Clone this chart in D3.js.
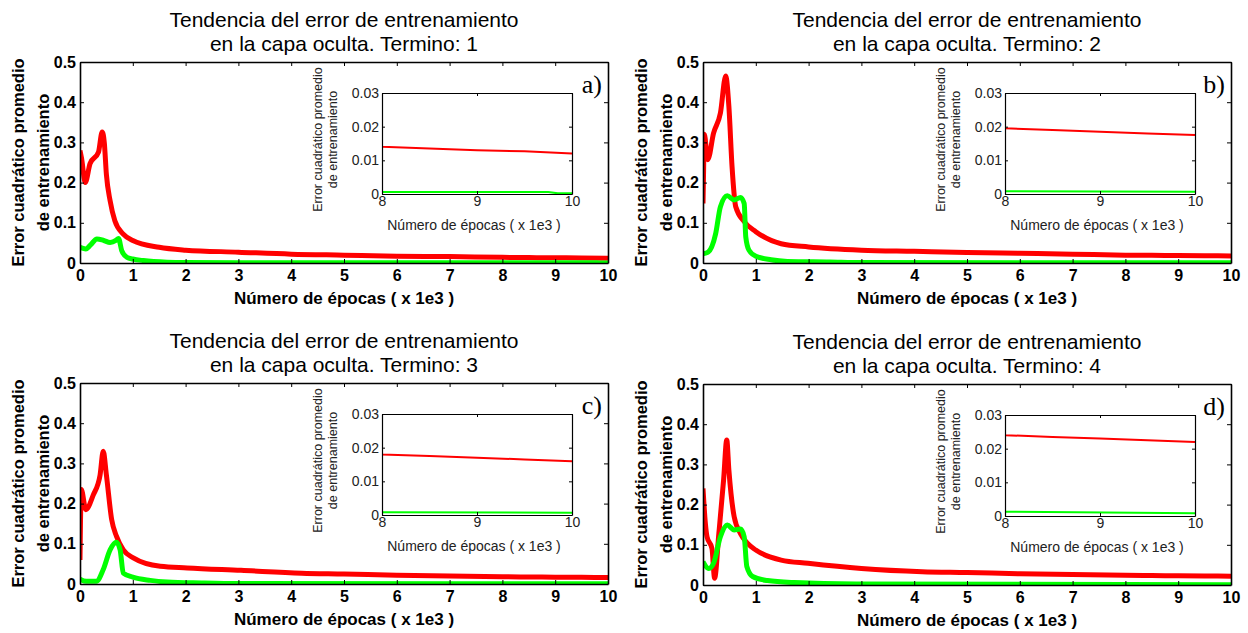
<!DOCTYPE html>
<html>
<head>
<meta charset="utf-8">
<script src="https://cdn.jsdelivr.net/npm/d3@7"></script>
<style>
  body { margin: 0; background: #fff; }
  svg { display: block; font-family: "Liberation Sans", Arial, sans-serif; }
</style>
</head>
<body>
<svg id="chart" width="1248" height="633"></svg>
<script>
// epocas en miles, error cuadratico promedio
const epocasRojoA = [0, 0.03, 0.1, 0.19, 0.35, 0.42, 0.46, 0.5, 0.57, 0.66, 0.82, 1.0, 1.5, 2, 3, 4, 5, 6, 7, 8, 8.5, 9, 9.5, 10];
const rojoA       = [0.28, 0.26, 0.2, 0.247, 0.276, 0.326, 0.3, 0.22, 0.155, 0.105, 0.072, 0.056, 0.039, 0.032, 0.027, 0.022, 0.0195, 0.017, 0.016, 0.014, 0.0135, 0.013, 0.0127, 0.012];
const epocasVerdeA = [0, 0.11, 0.2, 0.32, 0.45, 0.57, 0.68, 0.73, 0.79, 0.89, 1.0, 1.2, 1.65, 2.0, 3, 5, 8, 9, 9.75, 9.85, 10];
const verdeA       = [0.039, 0.035, 0.045, 0.06, 0.056, 0.051, 0.056, 0.061, 0.031, 0.014, 0.01, 0.006, 0.002, 0.0012, 0.0008, 0.0007, 0.0006, 0.0006, 0.0006, 0.0002, 0.0002];

const epocasRojoB = [0, 0.01, 0.025, 0.09, 0.2, 0.33, 0.43, 0.49, 0.55, 0.62, 0.78, 1.0, 1.48, 2, 3, 4, 5, 6, 7, 8, 8.5, 9, 9.5, 10];
const rojoB       = [0.148, 0.22, 0.32, 0.257, 0.323, 0.373, 0.465, 0.39, 0.24, 0.14, 0.103, 0.078, 0.048, 0.04, 0.032, 0.029, 0.026, 0.024, 0.022, 0.0195, 0.019, 0.0185, 0.018, 0.0175];
const epocasVerdeB = [0, 0.1, 0.24, 0.33, 0.46, 0.59, 0.71, 0.78, 0.81, 0.87, 1.0, 1.29, 1.6, 2.4, 3, 10];
const verdeB       = [0.023, 0.0275, 0.073, 0.14, 0.167, 0.157, 0.163, 0.148, 0.065, 0.032, 0.017, 0.008, 0.004, 0.0025, 0.001, 0.0007];

const epocasRojoC = [0, 0.025, 0.11, 0.25, 0.38, 0.44, 0.5, 0.6, 0.69, 0.82, 1.01, 1.52, 2.03, 3.05, 4.2, 5, 6, 7, 8, 8.5, 9, 9.5, 10];
const rojoC       = [0.06, 0.235, 0.185, 0.221, 0.271, 0.33, 0.271, 0.16, 0.119, 0.085, 0.065, 0.044, 0.04, 0.034, 0.027, 0.025, 0.022, 0.02, 0.018, 0.0175, 0.017, 0.0165, 0.016];
const epocasVerdeC = [0, 0.12, 0.31, 0.44, 0.57, 0.69, 0.76, 0.82, 1.0, 1.33, 1.65, 2.3, 3, 10];
const verdeC       = [0.012, 0.0066, 0.0066, 0.036, 0.085, 0.104, 0.085, 0.027, 0.017, 0.009, 0.005, 0.0025, 0.001, 0.0007];

const epocasRojoD = [0, 0.045, 0.076, 0.17, 0.22, 0.3, 0.39, 0.45, 0.49, 0.59, 0.71, 0.84, 1.0, 1.48, 1.99, 3, 4.15, 5, 6, 7, 8, 8.5, 9, 9.5, 10];
const rojoD       = [0.24, 0.153, 0.12, 0.091, 0.017, 0.128, 0.261, 0.361, 0.286, 0.17, 0.128, 0.104, 0.087, 0.062, 0.054, 0.041, 0.033, 0.031, 0.028, 0.026, 0.024, 0.0235, 0.023, 0.0225, 0.022];
const epocasVerdeD = [0, 0.11, 0.2, 0.33, 0.46, 0.59, 0.71, 0.78, 0.83, 0.94, 1.22, 1.73, 2.9, 10];
const verdeD       = [0.058, 0.041, 0.054, 0.12, 0.149, 0.137, 0.139, 0.12, 0.046, 0.021, 0.011, 0.006, 0.0025, 0.0008];

const xTicks = [0, 1, 2, 3, 4, 5, 6, 7, 8, 9, 10];
const yTicks = [0, 0.1, 0.2, 0.3, 0.4, 0.5];
const insetXTicks = [8, 9, 10];
const insetYTicks = [0, 0.01, 0.02, 0.03];
const terminos = [1, 2, 3, 4];
const letras = ["a)", "b)", "c)", "d)"];

const zip = (xs, ys) => xs.map((v, i) => [v, ys[i]]);
const panels = [
  { rojo: zip(epocasRojoA, rojoA), verde: zip(epocasVerdeA, verdeA) },
  { rojo: zip(epocasRojoB, rojoB), verde: zip(epocasVerdeB, verdeB) },
  { rojo: zip(epocasRojoC, rojoC), verde: zip(epocasVerdeC, verdeC) },
  { rojo: zip(epocasRojoD, rojoD), verde: zip(epocasVerdeD, verdeD) }
];

const svg = d3.select("#chart");
const W = 528, H = 201;
const positions = [[80, 62], [703, 62], [80, 383], [703, 384]];

function fmtMain(d) { return d === 0 ? "0" : d3.format(".1f")(d); }
function fmtInset(d) { return d === 0 ? "0" : d3.format(".2f")(d); }

function drawPanel(p, i) {
  const [left, top] = positions[i];
  const g = svg.append("g").attr("transform", `translate(${left},${top})`);

  const x = d3.scaleLinear().domain([0, 10]).range([0, W]);
  const y = d3.scaleLinear().domain([0, 0.5]).range([H, 0]);

  // titulo
  const title = g.append("text")
    .attr("text-anchor", "middle")
    .attr("font-size", 21)
    .attr("fill", "#000");
  title.append("tspan").attr("x", W / 2).attr("y", -35).text("Tendencia del error de entrenamiento");
  title.append("tspan").attr("x", W / 2).attr("y", -11).text("en la capa oculta. Termino: " + terminos[i]);

  // curvas
  const clipId = "clip-main-" + i;
  g.append("clipPath").attr("id", clipId)
    .append("rect").attr("x", 0).attr("y", -4).attr("width", W).attr("height", H + 4);

  const line = d3.line()
    .x(d => x(d[0]))
    .y(d => y(d[1]))
    .curve(d3.curveMonotoneX);

  const curves = g.append("g").attr("clip-path", `url(#${clipId})`);
  curves.append("path").datum(p.rojo)
    .attr("d", line).attr("fill", "none").attr("stroke", "#ff0000")
    .attr("stroke-width", 5).attr("stroke-linejoin", "round");
  curves.append("path").datum(p.verde)
    .attr("d", line).attr("fill", "none").attr("stroke", "#00ff00")
    .attr("stroke-width", 5).attr("stroke-linejoin", "round");

  // ejes
  const axB = g.append("g").attr("transform", `translate(0,${H})`)
    .call(d3.axisBottom(x).tickValues(xTicks).tickFormat(d3.format("d")).tickSize(-4).tickSizeOuter(0).tickPadding(7));
  const axL = g.append("g")
    .call(d3.axisLeft(y).tickValues(yTicks).tickFormat(fmtMain).tickSize(-4).tickSizeOuter(0).tickPadding(4));
  g.append("g")
    .call(d3.axisTop(x).tickValues(xTicks).tickFormat("").tickSize(-4).tickSizeOuter(0));
  g.append("g").attr("transform", `translate(${W},0)`)
    .call(d3.axisRight(y).tickValues(yTicks).tickFormat("").tickSize(-4).tickSizeOuter(0));
  g.selectAll(".domain").attr("stroke", "#000").attr("stroke-width", 1.6);
  g.selectAll(".tick line").attr("stroke", "#000");
  [axB, axL].forEach(a => a.selectAll("text")
    .attr("font-family", "'Liberation Sans', Arial, sans-serif")
    .attr("font-size", 16).attr("font-weight", "bold").attr("fill", "#000"));

  // etiquetas de ejes
  g.append("text")
    .attr("x", W / 2).attr("y", H + 41)
    .attr("text-anchor", "middle")
    .attr("font-size", 17).attr("font-weight", "bold")
    .text("Número de épocas ( x 1e3 )");

  const yl = g.append("text")
    .attr("transform", `translate(-62,${H / 2}) rotate(-90)`)
    .attr("text-anchor", "middle")
    .attr("font-size", 16.5).attr("font-weight", "bold");
  yl.append("tspan").attr("x", 0).attr("dy", "0.35em").text("Error cuadrático promedio");
  yl.append("tspan").attr("x", 0).attr("dy", "1.5em").text("de entrenamiento");

  // letra del panel
  g.append("text")
    .attr("x", W - 6).attr("y", 31)
    .attr("text-anchor", "end")
    .attr("font-family", "'Liberation Serif', 'Times New Roman', serif")
    .attr("font-size", 26)
    .text(letras[i]);

  drawInset(g, p, i);
}

function drawInset(parent, p, i) {
  const iw = 190, ih = 101;
  const g = parent.append("g").attr("transform", "translate(302,31)");
  const x = d3.scaleLinear().domain([8, 10]).range([0, iw]);
  const y = d3.scaleLinear().domain([0, 0.03]).range([ih, 0]);

  g.append("rect").attr("width", iw).attr("height", ih).attr("fill", "#fff");

  const clipId = "clip-inset-" + i;
  g.append("clipPath").attr("id", clipId)
    .append("rect").attr("width", iw).attr("height", ih);

  const line = d3.line().x(d => x(d[0])).y(d => y(d[1]));
  const curves = g.append("g").attr("clip-path", `url(#${clipId})`);
  curves.append("path").datum(p.rojo)
    .attr("d", line).attr("fill", "none").attr("stroke", "#ff0000").attr("stroke-width", 2);
  curves.append("path").datum(p.verde)
    .attr("d", line).attr("fill", "none").attr("stroke", "#00ff00").attr("stroke-width", 2);

  const axB = g.append("g").attr("transform", `translate(0,${ih})`)
    .call(d3.axisBottom(x).tickValues(insetXTicks).tickFormat(d3.format("d")).tickSize(-3).tickSizeOuter(0).tickPadding(2));
  const axL = g.append("g")
    .call(d3.axisLeft(y).tickValues(insetYTicks).tickFormat(fmtInset).tickSize(-3).tickSizeOuter(0).tickPadding(3));
  g.append("g")
    .call(d3.axisTop(x).tickValues(insetXTicks).tickFormat("").tickSize(-3).tickSizeOuter(0));
  g.append("g").attr("transform", `translate(${iw},0)`)
    .call(d3.axisRight(y).tickValues(insetYTicks).tickFormat("").tickSize(-3).tickSizeOuter(0));
  g.selectAll(".domain").attr("stroke", "#000").attr("stroke-width", 1.2);
  g.selectAll(".tick line").attr("stroke", "#000");
  [axB, axL].forEach(a => a.selectAll("text")
    .attr("font-family", "'Liberation Sans', Arial, sans-serif")
    .attr("font-size", 14).attr("fill", "#222"));

  g.append("text")
    .attr("x", iw / 2 - 3).attr("y", ih + 36)
    .attr("text-anchor", "middle")
    .attr("font-size", 14).attr("fill", "#222")
    .text("Número de épocas ( x 1e3 )");

  const yl = g.append("text")
    .attr("transform", `translate(-64,${ih / 2 - 4}) rotate(-90)`)
    .attr("text-anchor", "middle")
    .attr("font-size", 12.5).attr("fill", "#222");
  yl.append("tspan").attr("x", 0).attr("dy", "0.35em").text("Error cuadrático promedio");
  yl.append("tspan").attr("x", 0).attr("dy", "1.2em").text("de entrenamiento");
}

panels.forEach(drawPanel);
</script>
</body>
</html>
